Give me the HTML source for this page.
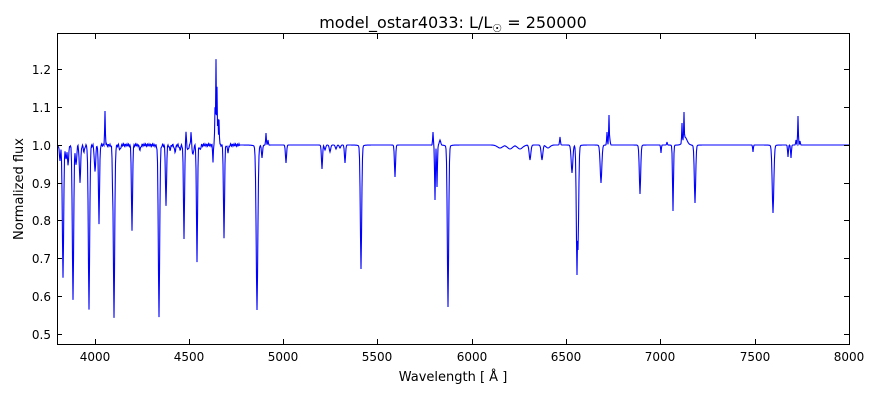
<!DOCTYPE html>
<html><head><style>
body{margin:0;background:#fff;width:880px;height:400px;overflow:hidden}
text{font-family:"DejaVu Sans","Liberation Sans",sans-serif;fill:#000}
</style></head><body>
<svg id="s" width="880" height="400" xmlns="http://www.w3.org/2000/svg">
<rect width="880" height="400" fill="#fff"/>
<path id="p" d="" fill="none" stroke="#0000ff" stroke-width="1.1" stroke-linejoin="miter"/>
<rect x="57.5" y="33.5" width="792" height="311" fill="none" stroke="#000" stroke-width="1"/>
<g stroke="#000" stroke-width="1" id="ticks"></g>
<g font-size="12" text-anchor="middle">
<text x="95" y="361">4000</text><text x="189" y="361">4500</text><text x="283" y="361">5000</text><text x="377" y="361">5500</text><text x="472" y="361">6000</text><text x="566" y="361">6500</text><text x="660" y="361">7000</text><text x="755" y="361">7500</text><text x="849" y="361">8000</text>
</g>
<g font-size="12" text-anchor="end">
<text x="51" y="74">1.2</text><text x="51" y="112">1.1</text><text x="51" y="150">1.0</text><text x="51" y="188">0.9</text><text x="51" y="225">0.8</text><text x="51" y="263">0.7</text><text x="51" y="301">0.6</text><text x="51" y="339">0.5</text>
</g>
<text x="453" y="381" font-size="13" text-anchor="middle">Wavelength [ Å ]</text>
<text transform="translate(23,189) rotate(-90)" font-size="13" text-anchor="middle">Normalized flux</text>
<text x="453" y="28" font-size="16" text-anchor="middle">model_ostar4033: L/L<tspan font-size="11" dy="4">☉</tspan><tspan dy="-4"> = 250000</tspan></text>
</svg>
<script>
var tk=document.getElementById('ticks'),h='';
[95,189,283,377,472,566,660,755].forEach(function(x){h+='<line x1="'+(x+.5)+'" y1="344" x2="'+(x+.5)+'" y2="339"/><line x1="'+(x+.5)+'" y1="34" x2="'+(x+.5)+'" y2="39"/>';});
[69,107,145,183,220,258,296,334].forEach(function(y){h+='<line x1="57" y1="'+(y+.5)+'" x2="62" y2="'+(y+.5)+'"/><line x1="849" y1="'+(y+.5)+'" x2="844" y2="'+(y+.5)+'"/>';});
tk.innerHTML=h;
var L=[[60,160,1],[63,277,1],[66,160,1],[68,165,1],[73,300,1],[76,166,1],[80,182,1],[84,152,1],[89,309,1],[95,172,1],[99,223,0.8],[105,112,0.5],[113,212,0.8],[114,317,1],[120,150,1],[132,232,0.8],[140,150,1],[159,318,1],[166,207,0.8],[170,150,1],[175,152,1],[180,150,1],[184,238,0.8],[186,132,0.5],[188,150,1],[191,132,0.5],[193,155,1],[197,262,0.8],[200,150,1],[213,162,0.5],[215,108,0.5],[216,58,0.5],[217,88,0.5],[218,118,0.5],[219,120,0.5],[224,239,0.8],[228,152,1],[257,310,1.2],[262,158,0.8],[266,133,0.5],[268,140,0.5],[286,163,0.8],[322,169,0.8],[325,150,1],[330,152,1],[336,149,1],[340,148,1],[345,163,0.8],[361,269,1],[395,177,0.8],[433,132,0.5],[435,200,0.6],[437,187,0.6],[440,140,1],[448,307,1],[500,148,4],[510,149,4],[520,149,4],[530,160,1.2],[542,160,1.2],[548,148,3],[560,137,0.6],[572,173,1.2],[577,275,1],[578,250,1],[601,183,1.2],[600,135,0.4],[607,132,0.5],[609,115,0.5],[610,140,0.5],[640,194,1],[661,153,0.5],[667,142,0.5],[673,211,0.7],[682,123,0.5],[684,112,0.5],[685,137,3],[695,203,1],[753,152,0.5],[773,213,1.2],[788,157,0.6],[791,158,0.6],[796,140,0.5],[798,116,0.5],[800,141,0.5]];
var d='M58,145',x;
for(x=58;x<=849;x+=0.5){
 var y=145;
 for(var i=0;i<L.length;i++){var l=L[i],dx=Math.abs(x-l[0])/l[2];var f=Math.exp(-dx*dx)*0.85+0.15/(1+dx*dx*4);var v=(l[1]-145)*f;if(Math.abs(v)>Math.abs(y-145))y=145+v;}
 if(x<240)y+=Math.sin(x*3.7)*1.2;
 d+='L'+x+','+y.toFixed(1);
}
document.getElementById('p').setAttribute('d',d);
</script>
</body></html>
